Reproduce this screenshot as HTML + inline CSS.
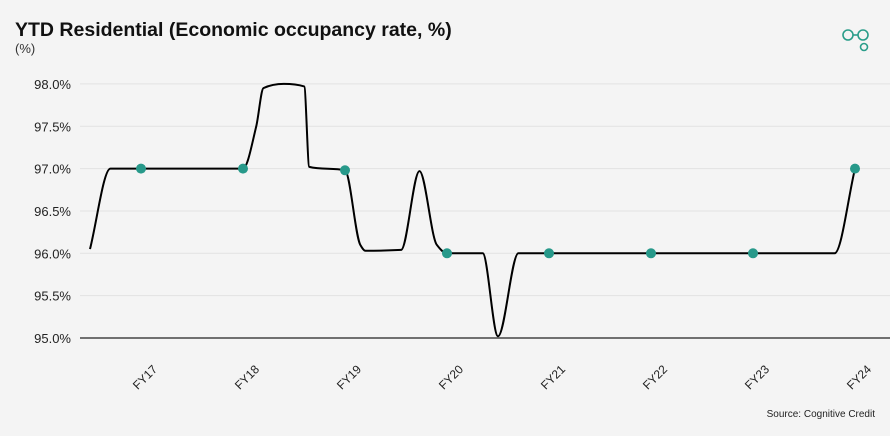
<!DOCTYPE html>
<html><head><meta charset="utf-8"><style>
body{margin:0;background:#f4f4f4;font-family:"Liberation Sans",sans-serif;}
svg{display:block}
</style></head><body>
<svg width="890" height="436">
<rect width="890" height="436" fill="#f4f4f4"/>
<text x="15" y="36" font-size="19.5" font-weight="bold" fill="#111">YTD Residential (Economic occupancy rate, %)</text>
<text x="15" y="53" font-size="13" fill="#333">(%)</text>
<g fill="none" stroke="#2a9d8a" stroke-width="1.6">
<circle cx="848" cy="35" r="5"/><circle cx="863" cy="35" r="5"/><line x1="853" y1="35" x2="858" y2="35"/><circle cx="864" cy="47" r="3.5"/>
</g>
<g id="grid"></g><g id="ylab"></g><g id="xlab"></g>
<path id="line" fill="none" stroke="#000" stroke-width="2"/>
<g id="dots"></g>
<text x="875" y="417" font-size="10" text-anchor="end" fill="#222">Source: Cognitive Credit</text>
</svg>
<script>
const categories=["FY17","FY18","FY19","FY20","FY21","FY22","FY23","FY24"];
const yearValues=[97.0,97.0,96.98,96.0,96.0,96.0,96.0,97.0];
const pathT=[-0.5,-0.3,0,1,1.13,1.2,1.4,1.6,1.65,2,2.15,2.2,2.55,2.73,2.9,3,3.35,3.5,3.7,4,5,6,6.8,7];
const pathV=[96.05,97.0,97.0,97.0,97.5,97.95,98.0,97.97,97.02,96.98,96.1,96.03,96.04,96.97,96.1,96.0,96.0,95.02,96.0,96.0,96.0,96.0,96.0,97.0];
const yTicks=[95.0,95.5,96.0,96.5,97.0,97.5,98.0];
const NS="http://www.w3.org/2000/svg";
const x=t=>141+t*102, y=v=>338-(v-95)*84.7;
const g=document.getElementById('grid'),yl=document.getElementById('ylab'),xl=document.getElementById('xlab'),dg=document.getElementById('dots');
yTicks.forEach(v=>{
 const l=document.createElementNS(NS,'line');
 
 
 l.setAttribute('x1',80);l.setAttribute('x2',890);l.setAttribute('y1',y(v));l.setAttribute('y2',y(v));
 l.setAttribute('stroke',v===95?'#222':'#e2e2e2');l.setAttribute('stroke-width',v===95?1.2:1);g.appendChild(l);
 const t=document.createElementNS(NS,'text');
 
 
 t.setAttribute('x',71);t.setAttribute('y',y(v)+5);t.setAttribute('text-anchor','end');t.setAttribute('font-size','13');t.setAttribute('fill','#222');
 t.textContent=v.toFixed(1)+'%';yl.appendChild(t);
});
categories.forEach((c,i)=>{
 const t=document.createElementNS(NS,'text');
 
 
 const px=x(i)+17,py=370;
 t.setAttribute('x',px);t.setAttribute('y',py);t.setAttribute('text-anchor','end');t.setAttribute('font-size','12');t.setAttribute('fill','#222');
 t.setAttribute('transform',`rotate(-45 ${px} ${py})`);t.textContent=c;xl.appendChild(t);
 const d=document.createElementNS(NS,'circle');
 
 
 d.setAttribute('cx',x(i));d.setAttribute('cy',y(yearValues[i]));d.setAttribute('r',5);d.setAttribute('fill','#27998a');dg.appendChild(d);
});
const X=pathT.map(x),Y=pathV.map(y),n=X.length,m=[],dlt=[];
for(let i=0;i<n-1;i++)dlt.push((Y[i+1]-Y[i])/(X[i+1]-X[i]));
m[0]=dlt[0];m[n-1]=dlt[n-2];
for(let i=1;i<n-1;i++)m[i]=(dlt[i-1]*dlt[i]<=0)?0:(3*(X[i+1]-X[i-1]))/((2*X[i+1]-X[i]-X[i-1])/dlt[i-1]+(X[i+1]+X[i]-2*X[i-1])/dlt[i]);
let p=`M${X[0]},${Y[0]}`;
for(let i=0;i<n-1;i++){const h=(X[i+1]-X[i])/3;p+=`C${X[i]+h},${Y[i]+m[i]*h} ${X[i+1]-h},${Y[i+1]-m[i+1]*h} ${X[i+1]},${Y[i+1]}`;}
document.getElementById('line').setAttribute('d',p);
</script>
</body></html>
